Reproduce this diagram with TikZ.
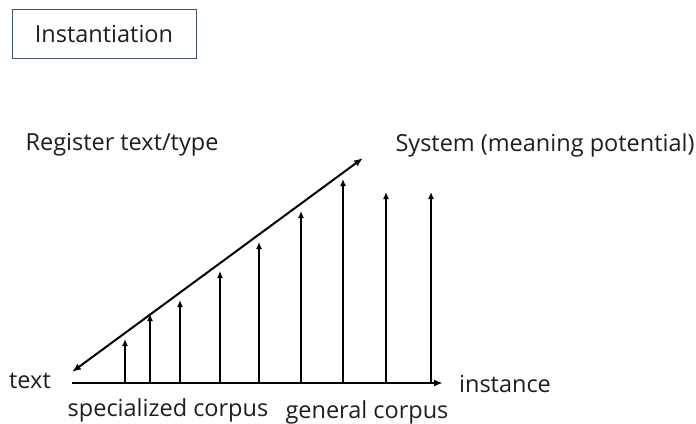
\documentclass[tikz,border=0pt]{standalone}
\usepackage{fontspec}
\setmainfont{Open Sans}
\usepackage{xcolor}
\usetikzlibrary{arrows.meta}
\definecolor{boxedge}{RGB}{68,84,106}
\definecolor{inktext}{RGB}{30,30,30}

\begin{document}
\begin{tikzpicture}[x=1pt,y=-1pt,font=\fontsize{23.5}{26}\selectfont,text=inktext]
            \useasboundingbox (0,0) rectangle (696,423);

            \node (title) at (104,33.5) [draw=boxedge,line width=1pt,minimum width=184pt,minimum height=49pt] {Instantiation};

            \node (reg) at (122,145) {Register text/type};
            \node (sys) at (545,145) {System (meaning potential)};
            \node (txt) at (30,381) {text};
            \node (inst) at (505,384) {instance};
            \node (spec) at (168,410) {specialized corpus};
            \node (gen) at (367,412) {general corpus};

            \coordinate (o) at (72,383);
            \coordinate (e) at (443,383);
            \coordinate (lo) at (72,372);
            \coordinate (hi) at (363,158);

            \draw[-{Latex[length=9pt,width=7pt]},line width=2pt] (o) -- (e);
            \draw[{Latex[length=9pt,width=7pt]}-{Latex[length=9pt,width=7pt]},line width=2pt] (lo) -- (hi);

            \coordinate (b1) at (125,383); \coordinate (t1) at (125,339);
            \coordinate (b2) at (150,383); \coordinate (t2) at (150,314);
            \coordinate (b3) at (180,383); \coordinate (t3) at (180,300);
            \coordinate (b4) at (220,383); \coordinate (t4) at (220,271);
            \coordinate (b5) at (259,383); \coordinate (t5) at (259,242);
            \coordinate (b6) at (301,383); \coordinate (t6) at (301,211);
            \coordinate (b7) at (343,383); \coordinate (t7) at (343,179);
            \coordinate (b8) at (386,383); \coordinate (t8) at (386,192);
            \coordinate (b9) at (431,383); \coordinate (t9) at (431,192);

            \foreach \i in {1,...,9}
                \draw[-{Latex[length=7pt,width=6pt]},line width=1.3pt] (b\i) -- (t\i);

        \end{tikzpicture}
\end{document}
